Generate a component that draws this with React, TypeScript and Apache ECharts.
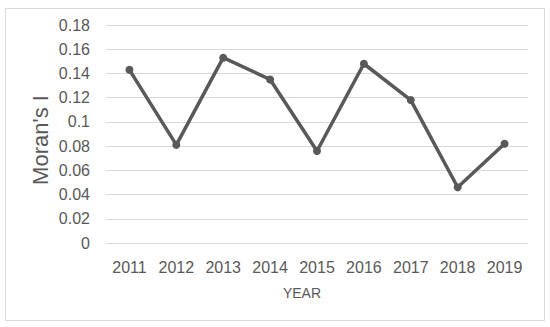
import React, { useEffect, useRef } from "react";
import * as echarts from "echarts";

const years = ["2011", "2012", "2013", "2014", "2015", "2016", "2017", "2018", "2019"];
const moransI = [0.143, 0.081, 0.153, 0.135, 0.076, 0.148, 0.118, 0.046, 0.082];
const yTitle = "Moran's I";
const xTitle = "YEAR";

export default function App() {
  const ref = useRef<HTMLDivElement>(null);
  useEffect(() => {
    const chart = echarts.init(ref.current!, undefined, { renderer: "svg" });
    const font = "'Liberation Sans', Arial, sans-serif";
    chart.setOption({
      animation: false,
      backgroundColor: "#ffffff",
      grid: { left: 106, right: 22, top: 25, bottom: 84 },
      graphic: [
        {
          type: "rect",
          shape: { x: 5.5, y: 8.5, width: 539, height: 312 },
          style: { fill: "none", stroke: "#d9d9d9", lineWidth: 1 },
          silent: true,
        },
        {
          type: "text",
          x: 302,
          y: 293,
          style: {
            text: xTitle,
            font: `14px ${font}`,
            fill: "#595959",
            align: "center",
            verticalAlign: "middle",
          },
        },
        {
          type: "text",
          x: 40,
          y: 140,
          rotation: Math.PI / 2,
          style: {
            text: yTitle,
            font: `22px ${font}`,
            fill: "#595959",
            align: "center",
            verticalAlign: "middle",
          },
        },
      ],
      xAxis: {
        type: "category",
        data: years,
        boundaryGap: true,
        axisLine: { show: false },
        axisTick: { show: false },
        axisLabel: { color: "#595959", fontSize: 16, fontFamily: font, margin: 16 },
      },
      yAxis: {
        type: "value",
        min: 0,
        max: 0.18,
        interval: 0.02,
        axisLine: { show: false },
        axisTick: { show: false },
        splitLine: { lineStyle: { color: "#d9d9d9", width: 1 } },
        axisLabel: {
          color: "#595959",
          fontSize: 16,
          fontFamily: font,
          margin: 16,
          formatter: (v: number) => String(parseFloat(v.toFixed(2))),
        },
      },
      series: [
        {
          type: "line",
          data: moransI,
          symbol: "circle",
          symbolSize: 8,
          lineStyle: { color: "#595959", width: 3.5 },
          itemStyle: { color: "#595959" },
        },
      ],
    });
    return () => chart.dispose();
  }, []);
  return <div ref={ref} style={{ width: 550, height: 327, position: "absolute", left: 0, top: 0 }} />;
}
